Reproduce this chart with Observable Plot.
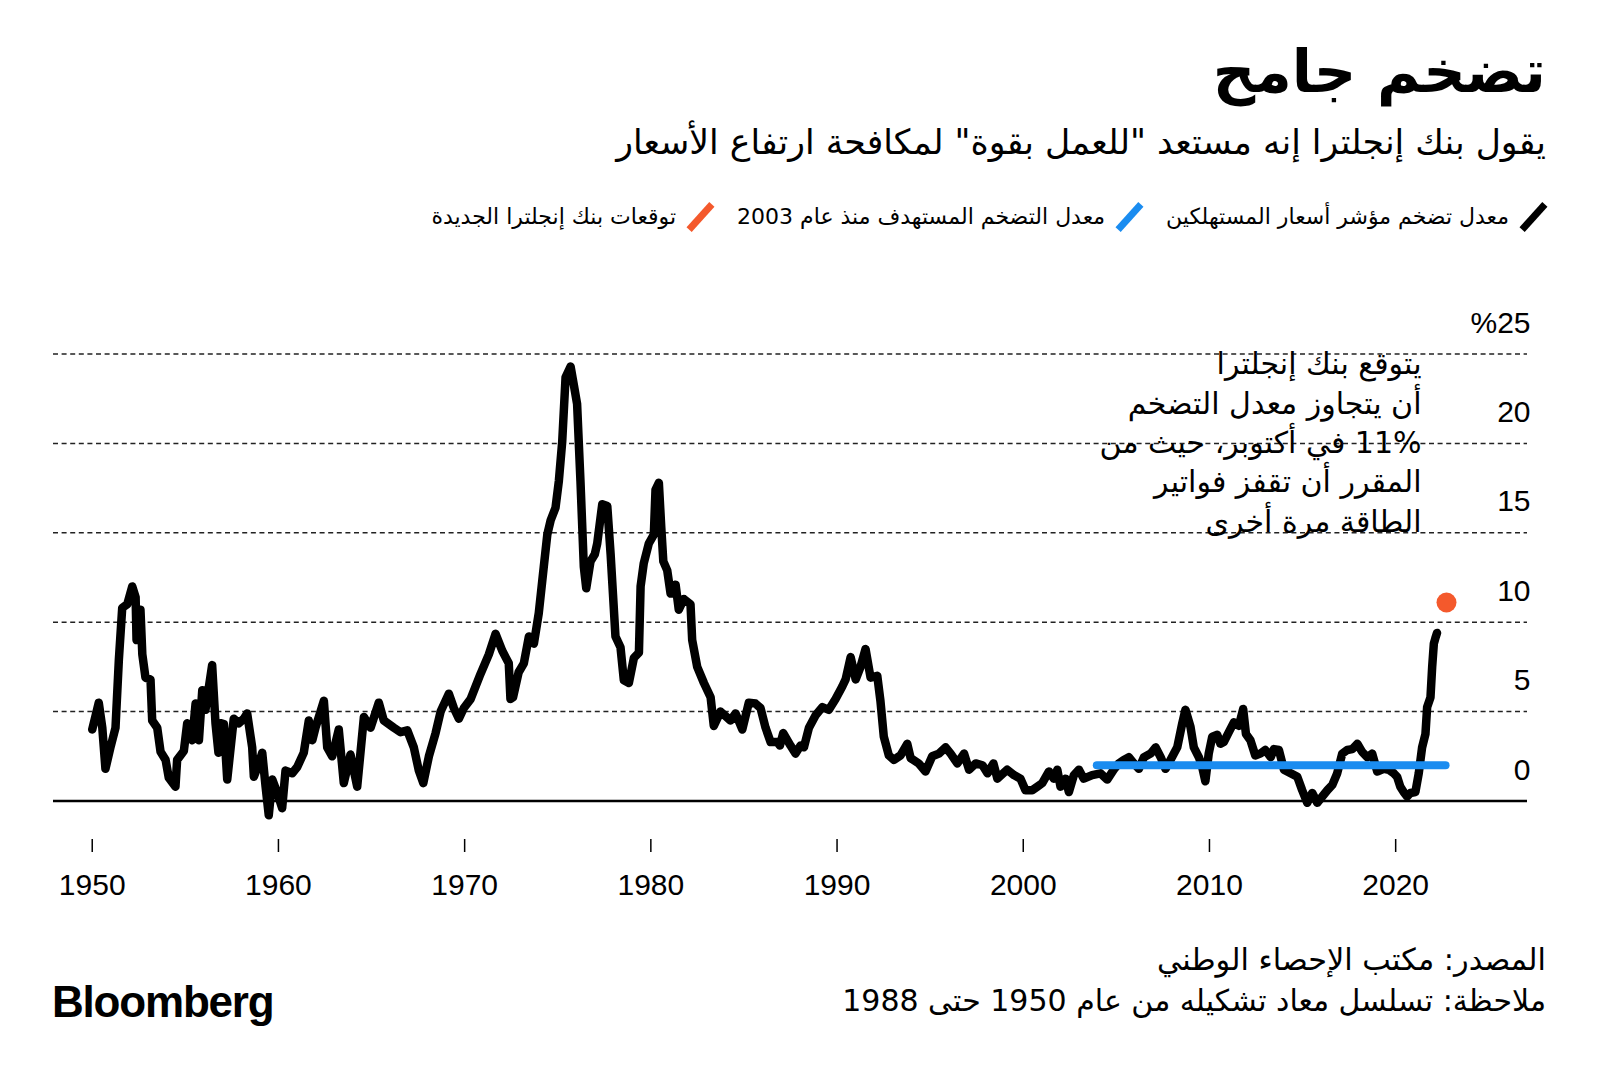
<!DOCTYPE html>
<html><head><meta charset="utf-8">
<script src="https://cdn.jsdelivr.net/npm/d3@7"></script>
<script src="https://cdn.jsdelivr.net/npm/@observablehq/plot@0.6"></script>
<style>
html,body{margin:0;padding:0;background:#fff;overflow:hidden;}
#page{position:relative;width:1600px;height:1081px;overflow:hidden;background:#fff;color:#000;}
.ar{font-family:"DejaVu Sans",sans-serif;direction:rtl;position:absolute;white-space:nowrap;line-height:1;color:#000;}
#title{right:54px;top:42px;font-size:59px;font-weight:bold;}
#subtitle{right:54px;top:125px;font-size:34.7px;}
#legend{right:52px;top:201px;height:32px;display:flex;align-items:center;font-size:22px;}
#legend .item{display:flex;align-items:center;margin-left:22px;}
#legend .swbox{display:inline-flex;align-items:center;justify-content:center;width:30px;height:30px;margin-left:9px;}
#legend .sw{display:block;width:7px;height:34px;transform:rotate(42deg);}
#legend .lab{line-height:1;}
#chart{position:absolute;left:0;top:250px;}
#source{right:54px;top:945px;font-size:30.3px;}
#note{right:54px;top:986px;font-size:30px;}
#logo{position:absolute;left:52px;top:980px;font-family:"Liberation Sans",Arial,sans-serif;font-weight:bold;font-size:44px;line-height:1;letter-spacing:-1.2px;}
</style></head>
<body><div id="page">
<div id="title" class="ar">تضخم جامح</div>
<div id="subtitle" class="ar">يقول بنك إنجلترا إنه مستعد "للعمل بقوة" لمكافحة ارتفاع الأسعار</div>
<div id="legend" class="ar"></div>
<div id="chart"></div>
<div id="source" class="ar">المصدر: مكتب الإحصاء الوطني</div>
<div id="note" class="ar">ملاحظة: تسلسل معاد تشكيله من عام 1950 حتى 1988</div>
<div id="logo">Bloomberg</div>
</div>
<script>
// ---- data ----
const cpiDates = [1950.00,1950.35,1950.54,1950.71,1950.98,1951.25,1951.43,1951.61,1951.88,1952.15,1952.33,1952.38,1952.59,1952.69,1952.86,1953.13,1953.22,1953.49,1953.67,1953.94,1954.11,1954.47,1954.56,1954.92,1955.10,1955.37,1955.55,1955.73,1955.91,1956.08,1956.44,1956.62,1956.78,1956.89,1957.07,1957.25,1957.60,1957.87,1958.14,1958.32,1958.59,1958.68,1958.95,1959.13,1959.31,1959.48,1959.67,1959.94,1960.20,1960.38,1960.74,1961.01,1961.36,1961.63,1961.82,1961.99,1962.44,1962.62,1962.89,1963.24,1963.51,1963.87,1964.23,1964.59,1964.95,1965.39,1965.66,1966.20,1966.56,1966.92,1967.27,1967.54,1967.78,1968.08,1968.44,1968.71,1969.15,1969.42,1969.69,1969.96,1970.32,1970.85,1971.30,1971.66,1972.02,1972.37,1972.46,1972.60,1972.90,1973.18,1973.45,1973.72,1973.98,1974.25,1974.44,1974.62,1974.88,1975.06,1975.24,1975.42,1975.69,1975.86,1976.04,1976.22,1976.40,1976.53,1976.76,1976.99,1977.12,1977.39,1977.66,1977.84,1978.10,1978.37,1978.55,1978.82,1979.09,1979.36,1979.45,1979.62,1979.89,1980.16,1980.25,1980.43,1980.56,1980.67,1980.88,1981.06,1981.33,1981.50,1981.77,1982.13,1982.22,1982.49,1982.85,1983.21,1983.38,1983.74,1984.28,1984.55,1984.91,1985.26,1985.62,1985.89,1986.16,1986.43,1986.79,1986.93,1987.11,1987.50,1987.77,1988.04,1988.22,1988.49,1988.85,1989.21,1989.56,1989.92,1990.28,1990.46,1990.73,1991.00,1991.26,1991.53,1991.80,1992.16,1992.33,1992.51,1992.78,1993.05,1993.41,1993.77,1993.95,1994.39,1994.75,1995.11,1995.47,1995.83,1996.10,1996.46,1996.82,1997.09,1997.45,1997.81,1998.08,1998.40,1998.61,1999.14,1999.50,1999.85,2000.12,2000.48,2000.75,2001.02,2001.38,2001.64,2001.83,2002.00,2002.27,2002.45,2002.72,2002.99,2003.25,2003.70,2004.15,2004.51,2004.86,2005.13,2005.40,2005.67,2005.94,2006.21,2006.48,2006.84,2007.11,2007.38,2007.64,2007.91,2008.27,2008.54,2008.71,2008.98,2009.16,2009.43,2009.61,2009.78,2009.96,2010.15,2010.42,2010.59,2010.77,2011.04,2011.31,2011.58,2011.81,2011.96,2012.20,2012.46,2012.73,2013.00,2013.29,2013.46,2013.73,2014.00,2014.36,2014.72,2014.98,2015.25,2015.52,2015.79,2016.06,2016.33,2016.60,2016.86,2017.13,2017.40,2017.67,2017.94,2018.20,2018.47,2018.74,2019.01,2019.36,2019.63,2019.90,2020.08,2020.25,2020.43,2020.62,2020.79,2021.06,2021.24,2021.42,2021.60,2021.69,2021.87,2021.96,2022.05,2022.13,2022.22];
const cpiValues = [4.0,5.5,4.1,1.8,3.0,4.1,7.9,10.8,11.0,12.0,11.4,9.0,10.7,8.2,6.9,6.8,4.5,4.1,2.75,2.3,1.3,0.8,2.3,2.8,4.35,3.4,5.45,3.4,6.2,5.1,7.6,4.35,2.7,4.35,4.3,1.2,4.6,4.35,4.6,4.9,3.0,1.35,2.1,2.7,0.8,-0.8,1.2,0.45,-0.4,1.7,1.55,1.9,2.7,4.5,3.4,4.1,5.6,3.0,2.5,4.0,1.0,2.6,0.8,4.7,4.1,5.5,4.5,4.1,3.85,3.95,3.0,1.7,1.0,2.5,3.8,5.0,6.0,5.2,4.6,5.2,5.7,7.1,8.2,9.35,8.4,7.7,5.7,5.8,7.2,7.7,9.2,8.8,10.5,13.1,14.9,15.7,16.4,17.9,20.1,23.7,24.3,23.3,22.2,17.9,13.1,11.9,13.4,13.8,14.4,16.6,16.5,13.8,9.2,8.6,6.75,6.6,8.0,8.3,12.0,13.3,14.4,14.9,17.4,17.8,15.3,13.4,12.9,11.6,12.1,10.7,11.3,11.0,9.0,7.5,6.6,5.8,4.2,5.0,4.5,4.9,4.0,5.5,5.45,5.2,4.1,3.3,3.3,3.1,3.8,3.1,2.65,3.1,3.0,4.1,4.8,5.25,5.1,5.7,6.4,6.8,8.05,6.8,7.5,8.5,6.9,7.0,5.6,3.6,2.55,2.3,2.55,3.2,2.4,2.1,1.65,2.5,2.65,3.0,2.65,2.1,2.65,1.75,2.1,2.0,1.55,2.1,1.25,1.75,1.45,1.25,0.6,0.6,0.8,1.0,1.65,1.25,1.75,0.8,1.25,0.5,1.45,1.75,1.25,1.45,1.55,1.2,1.75,2.1,2.3,2.45,2.1,1.8,2.45,2.65,3.0,2.45,1.8,2.3,3.0,4.35,5.1,4.15,3.0,2.45,1.9,1.1,2.65,3.6,3.7,3.2,3.3,3.85,4.4,4.2,5.15,3.75,3.4,2.55,2.65,2.85,2.45,2.9,2.85,1.75,1.55,1.35,0.6,-0.1,0.45,-0.1,0.25,0.6,0.9,1.55,2.65,2.85,2.9,3.2,2.75,2.45,2.65,1.65,1.8,1.75,1.55,1.35,0.8,0.5,0.25,0.45,0.5,1.55,3.0,3.75,5.25,5.8,7.5,8.8,9.1,9.4];
const targetDates = [2003.95, 2022.68];
const targetValues = [2, 2];
const forecastDates = [2022.73];
const forecastValues = [11.1];
const xTicks = [1950, 1960, 1970, 1980, 1990, 2000, 2010, 2020];
const yTicks = [0, 5, 10, 15, 20, 25];
const yTickLabels = ["0", "5", "10", "15", "20", "%25"];
const xDomain = [1947.92, 2027.08];
const yDomain = [0, 25];
const legendLabels = ["معدل تضخم مؤشر أسعار المستهلكين", "معدل التضخم المستهدف منذ عام 2003", "توقعات بنك إنجلترا الجديدة"];
const legendColors = ["#000000", "#1a8cf0", "#f4592c"];
const annotationLines = ["يتوقع بنك إنجلترا", "أن يتجاوز معدل التضخم", "11% في أكتوبر، حيث من", "المقرر أن تقفز فواتير", "الطاقة مرة أخرى"];

// ---- legend ----
const legend = document.getElementById("legend");
legendLabels.forEach((lab, i) => {
  const item = document.createElement("div");
  item.className = "item";
  const box = document.createElement("span");
  box.className = "swbox";
  const sw = document.createElement("span");
  sw.className = "sw";
  sw.style.background = legendColors[i];
  box.appendChild(sw);
  const t = document.createElement("span");
  t.className = "lab";
  t.textContent = lab;
  item.appendChild(box); item.appendChild(t);
  legend.appendChild(item);
});

// ---- chart ----
const cpi = cpiDates.map((d, i) => ({date: d, value: cpiValues[i]}));
const target = targetDates.map((d, i) => ({date: d, value: targetValues[i]}));
const forecast = forecastDates.map((d, i) => ({date: d, value: forecastValues[i]}));
const ytk = yTicks.map((v, i) => ({v, label: yTickLabels[i]}));
const RLE = "\u202B", PDF = "\u202C";
const annotation = annotationLines.map(l => RLE + l + PDF).join("\n");

const W = 1600, H = 680;
const plot = Plot.plot({
  width: W, height: H,
  marginLeft: 53, marginRight: 73, marginTop: 0, marginBottom: 91,
  x: {type: "linear", domain: xDomain, label: null},
  y: {domain: yDomain, range: [550.5, 103.5], axis: null},
  style: {fontFamily: "'Liberation Sans', Arial, sans-serif", fontSize: "30px", color: "#000", background: "#fff", overflow: "visible"},
  marks: [
    Plot.ruleY(yTicks.filter(d => d > 0), {stroke: "#222", strokeWidth: 1.5, strokeDasharray: "5,3.6"}),
    Plot.ruleY([0], {stroke: "#000", strokeWidth: 2.5}),
    Plot.line(cpi, {x: "date", y: "value", stroke: legendColors[0], strokeWidth: 8.5, strokeLinejoin: "round", strokeLinecap: "round"}),
    Plot.line(target, {x: "date", y: "value", stroke: legendColors[1], strokeWidth: 8, strokeLinecap: "round"}),
    Plot.dot(forecast, {x: "date", y: "value", r: 10, fill: legendColors[2], stroke: "none"}),
    Plot.text(ytk, {y: "v", frameAnchor: "right", text: "label", textAnchor: "end", dx: 3, dy: -31, fill: "#000"}),
    Plot.axisX(xTicks, {tickSize: 13, tickPadding: 21, strokeWidth: 1.5, tickFormat: d => String(d), label: null, fill: "#000", stroke: "#000"}),
    Plot.text(forecast, {x: "date", y: "value", text: () => annotation, textAnchor: "end", lineAnchor: "top", lineHeight: 1.31, dx: -25, dy: -256, fontFamily: "'DejaVu Sans', sans-serif", fontSize: 30, fill: "#000"})
  ]
});
document.getElementById("chart").appendChild(plot);
</script>
</body></html>
